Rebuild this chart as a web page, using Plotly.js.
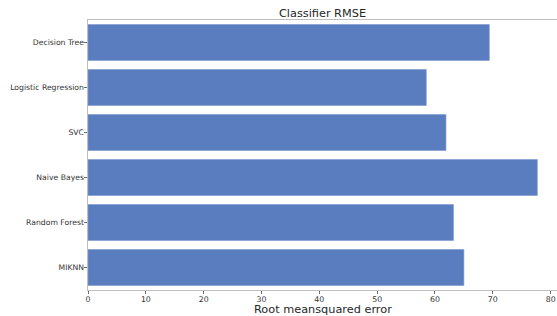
<!DOCTYPE html>
<html>
<head>
<meta charset="utf-8">
<script src="https://cdn.plot.ly/plotly-3.0.1.min.js"></script>
<style>html,body{margin:0;padding:0;background:#fff;}#chart{width:557px;height:316px;}</style>
</head>
<body>
<div id="chart"></div>
<script>
var classifiers = ["Decision Tree", "Logistic Regression", "SVC", "Naive Bayes", "Random Forest", "MIKNN"];
var rmse = [69.4, 58.5, 61.9, 77.7, 63.2, 65.0];
var xTicks = [0, 10, 20, 30, 40, 50, 60, 70, 80];
var xTitle = "Root meansquared error";

var trace = {
  type: "bar",
  orientation: "h",
  y: classifiers,
  x: rmse,
  width: 0.8,
  marker: {color: "#5a7dc0", line: {color: "#7f9bd0", width: 0.6}},
  hoverinfo: "x+y"
};

var font = "DejaVu Sans, sans-serif";
var layout = {
  width: 557,
  height: 316,
  margin: {l: 88, r: 0, t: 20, b: 26, pad: 0},
  paper_bgcolor: "#ffffff",
  plot_bgcolor: "#ffffff",
  showlegend: false,
  font: {family: font, color: "#262626"},
  title: {
    text: "Classifier RMSE",
    font: {family: font, size: 11.3, color: "#262626"},
    x: 0.5, xref: "paper", xanchor: "center",
    y: 0.958, yref: "container", yanchor: "middle"
  },
  xaxis: {
    range: [0, 81.1],
    tickvals: xTicks,
    ticktext: xTicks.map(String),
    showgrid: false,
    zeroline: false,
    showline: true,
    linecolor: "#bfbfbf",
    linewidth: 1,
    mirror: true,
    ticks: "outside",
    ticklen: 3,
    tickcolor: "#444",
    tickwidth: 0.8,
    ticklabelstandoff: -1,
    tickfont: {family: font, size: 7.8, color: "#333333"}
  },
  yaxis: {
    type: "category",
    categoryorder: "array",
    categoryarray: classifiers,
    autorange: false,
    range: [5.5, -0.5],
    showgrid: false,
    zeroline: false,
    showline: true,
    linecolor: "#bfbfbf",
    linewidth: 1,
    ticks: "outside",
    ticklen: 3.5,
    tickcolor: "#444",
    tickwidth: 0.8,
    ticklabelstandoff: -2,
    tickfont: {family: font, size: 7.7, color: "#333333"}
  },
  annotations: [{
    text: xTitle,
    xref: "paper", yref: "paper",
    x: 0.5, y: -0.044,
    xanchor: "center", yanchor: "top",
    showarrow: false,
    borderpad: 0,
    font: {family: font, size: 11.3, color: "#262626"}
  }],
  bargap: 0.2
};

Plotly.newPlot("chart", [trace], layout, {displayModeBar: false, staticPlot: true});
</script>
</body>
</html>
